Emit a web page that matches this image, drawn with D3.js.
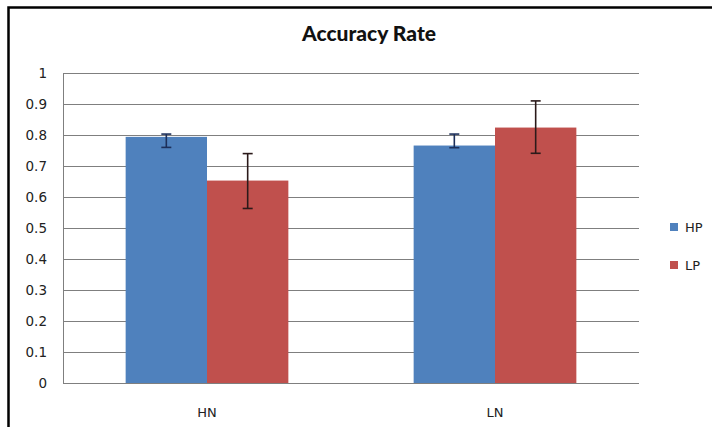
<!DOCTYPE html>
<html>
<head>
<meta charset="utf-8">
<script src="https://cdn.jsdelivr.net/npm/d3@7"></script>
<style>
  body { margin: 0; background: #fff; }
  svg { display: block; }
</style>
</head>
<body>
<div id="chart"></div>
<script>
const categories = ["HN", "LN"];
const series = ["HP", "LP"];
const seriesColors = ["#4f81bd", "#c0504d"];
const errColors = ["#1c2f5a", "#2b1a1a"];
// values per category, per series
const hpValues = [0.794, 0.766];
const lpValues = [0.653, 0.824];
const hpErrPlus = [0.009, 0.037];
const hpErrMinus = [0.034, 0.007];
const lpErrPlus = [0.087, 0.086];
const lpErrMinus = [0.090, 0.083];
const yTicks = [0, 0.1, 0.2, 0.3, 0.4, 0.5, 0.6, 0.7, 0.8, 0.9, 1];

const width = 712, height = 427;
const margin = {top: 73, left: 63, right: 73, bottom: 44};
const labelFont = "DejaVu Sans, Verdana, sans-serif";

const rows = [];
categories.forEach((c, i) => {
    rows.push({cat: c, s: 0, v: hpValues[i], up: hpErrPlus[i], dn: hpErrMinus[i]});
    rows.push({cat: c, s: 1, v: lpValues[i], up: lpErrPlus[i], dn: lpErrMinus[i]});
});

const svg = d3.select("#chart").append("svg")
    .attr("width", width)
    .attr("height", height);

// outer chart border
svg.append("rect")
    .attr("x", 8.5).attr("y", 7.5)
    .attr("width", 740).attr("height", 460)
    .attr("fill", "#fff")
    .attr("stroke", "#000")
    .attr("stroke-width", 2.5);

const x = d3.scaleBand()
    .domain(categories)
    .range([margin.left, width - margin.right]);

const x1 = d3.scaleBand()
    .domain([0, 1])
    .range([0, x.bandwidth()])
    .paddingInner(0)
    .paddingOuter(0.77);

const y = d3.scaleLinear()
    .domain([0, 1])
    .range([height - margin.bottom, margin.top]);

// gridlines
svg.append("g")
    .selectAll("line")
    .data(yTicks)
    .enter().append("line")
    .attr("x1", margin.left)
    .attr("x2", width - margin.right)
    .attr("y1", d => Math.round(y(d)) + 0.5)
    .attr("y2", d => Math.round(y(d)) + 0.5)
    .attr("stroke", "#7f7f7f")
    .attr("stroke-width", 1.2);

// y axis line
svg.append("line")
    .attr("x1", margin.left + 0.5).attr("x2", margin.left + 0.5)
    .attr("y1", y(1)).attr("y2", y(0))
    .attr("stroke", "#7f7f7f");

// y labels
svg.append("g")
    .selectAll("text")
    .data(yTicks)
    .enter().append("text")
    .attr("x", 47)
    .attr("y", d => y(d))
    .attr("dy", "0.36em")
    .attr("text-anchor", "end")
    .attr("font-family", labelFont)
    .attr("font-size", 13.5)
    .attr("fill", "#222")
    .text(d => d3.format("~g")(d));

// bars
svg.append("g")
    .selectAll("rect")
    .data(rows)
    .enter().append("rect")
    .attr("x", d => x(d.cat) + x1(d.s))
    .attr("width", x1.bandwidth())
    .attr("y", d => y(d.v))
    .attr("height", d => y(0) - y(d.v))
    .attr("fill", d => seriesColors[d.s]);

// error bars
const eb = svg.append("g")
    .selectAll("g")
    .data(rows)
    .enter().append("g")
    .attr("stroke", d => errColors[d.s])
    .attr("stroke-width", 1.6);

eb.append("line")
    .attr("x1", d => x(d.cat) + x1(d.s) + x1.bandwidth() / 2)
    .attr("x2", d => x(d.cat) + x1(d.s) + x1.bandwidth() / 2)
    .attr("y1", d => y(d.v + d.up))
    .attr("y2", d => y(d.v - d.dn));
eb.append("line")
    .attr("x1", d => x(d.cat) + x1(d.s) + x1.bandwidth() / 2 - 5)
    .attr("x2", d => x(d.cat) + x1(d.s) + x1.bandwidth() / 2 + 5)
    .attr("y1", d => y(d.v + d.up))
    .attr("y2", d => y(d.v + d.up));
eb.append("line")
    .attr("x1", d => x(d.cat) + x1(d.s) + x1.bandwidth() / 2 - 5)
    .attr("x2", d => x(d.cat) + x1(d.s) + x1.bandwidth() / 2 + 5)
    .attr("y1", d => y(d.v - d.dn))
    .attr("y2", d => y(d.v - d.dn));

// x axis line
svg.append("line")
    .attr("x1", margin.left).attr("x2", width - margin.right)
    .attr("y1", Math.round(y(0)) + 0.5).attr("y2", Math.round(y(0)) + 0.5)
    .attr("stroke", "#7f7f7f");

// x labels
svg.append("g")
    .selectAll("text")
    .data(categories)
    .enter().append("text")
    .attr("x", d => x(d) + x.bandwidth() / 2)
    .attr("y", 412)
    .attr("dy", "0.36em")
    .attr("text-anchor", "middle")
    .attr("font-family", labelFont)
    .attr("font-size", 13)
    .attr("fill", "#222")
    .text(d => d);

// title
svg.append("text")
    .attr("x", 369)
    .attr("y", 33)
    .attr("dy", "0.36em")
    .attr("text-anchor", "middle")
    .attr("font-family", "Lato, sans-serif")
    .attr("font-weight", 900)
    .attr("font-size", 21)
    .attr("fill", "#111")
    .text("Accuracy Rate");

// legend
const legend = svg.append("g")
    .selectAll("g")
    .data(series)
    .enter().append("g")
    .attr("transform", (d, i) => `translate(670, ${227 + i * 38})`);
legend.append("rect")
    .attr("x", 0).attr("y", -4)
    .attr("width", 8).attr("height", 8)
    .attr("fill", (d, i) => seriesColors[i]);
legend.append("text")
    .attr("x", 15)
    .attr("y", 0)
    .attr("dy", "0.36em")
    .attr("font-family", labelFont)
    .attr("font-size", 13)
    .attr("fill", "#222")
    .text(d => d);
</script>
</body>
</html>
